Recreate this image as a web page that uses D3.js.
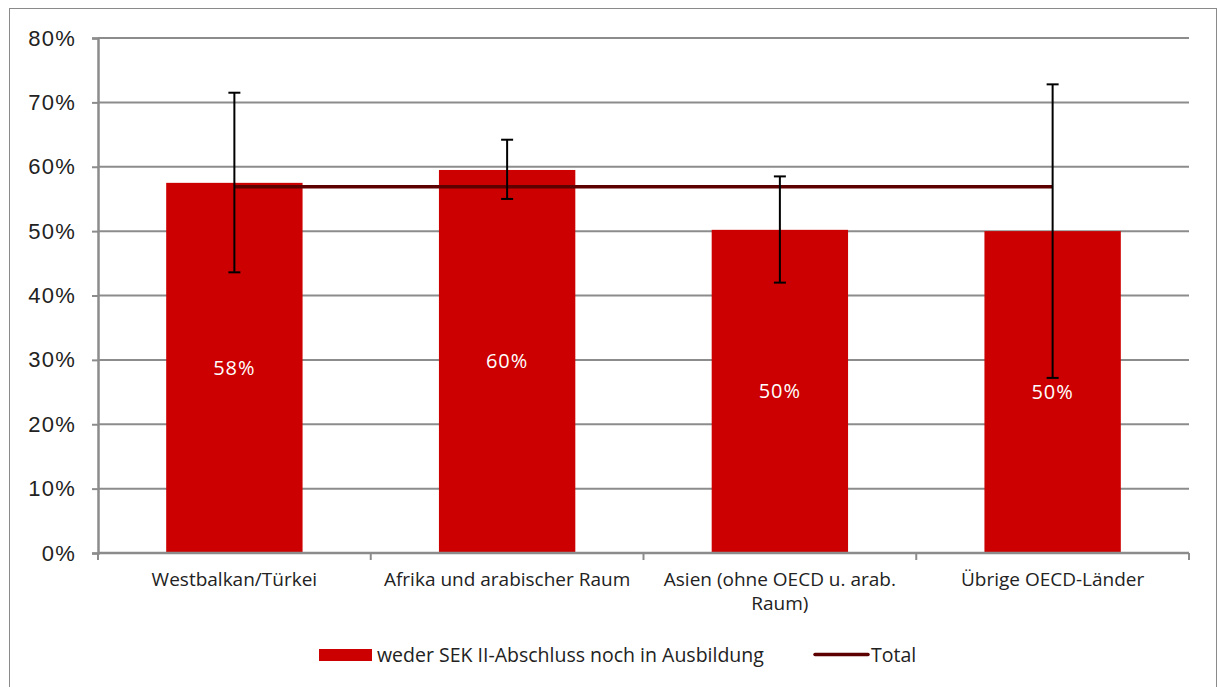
<!DOCTYPE html>
<html>
<head>
<meta charset="utf-8">
<script src="https://cdn.jsdelivr.net/npm/d3@7"></script>
<style>
  html, body { margin: 0; padding: 0; background: #fff; }
  svg { display: block; font-family: "Open Sans", "Noto Sans", sans-serif; }
</style>
</head>
<body>
<svg id="chart" width="1217" height="687"></svg>
<script>
// Regions of origin
const categories = [
  "Westbalkan/Türkei",
  "Afrika und arabischer Raum",
  "Asien (ohne OECD u. arab. Raum)",
  "Übrige OECD-Länder"
];
// Share without upper-secondary degree and not in education
const shares = [0.575, 0.595, 0.502, 0.500];
const shareLabels = ["58%", "60%", "50%", "50%"];
// Confidence interval bounds
const lowerBounds = [0.436, 0.550, 0.420, 0.272];
const upperBounds = [0.715, 0.642, 0.585, 0.728];
// Overall total
const totalShare = 0.569;
const yTicks = [0, 0.1, 0.2, 0.3, 0.4, 0.5, 0.6, 0.7, 0.8];
const legendLabels = ["weder SEK II-Abschluss noch in Ausbildung", "Total"];

const svg = d3.select("#chart");
const W = 1217, H = 687;
const plot = { left: 98, right: 1189, top: 38, bottom: 553 };

// outer frame
svg.append("rect")
  .attr("x", 9.5).attr("y", 8.5)
  .attr("width", W - 10).attr("height", H)
  .attr("fill", "none").attr("stroke", "#8a8a8a").attr("stroke-width", 1);

const x = d3.scaleBand()
  .domain(categories)
  .range([plot.left, plot.right])
  .paddingInner(0.5)
  .paddingOuter(0.25);

const y = d3.scaleLinear()
  .domain([0, 0.8])
  .range([plot.bottom, plot.top]);

// horizontal gridlines
svg.append("g")
  .selectAll("line")
  .data(yTicks.filter(d => d > 0))
  .join("line")
  .attr("x1", plot.left).attr("x2", plot.right)
  .attr("y1", d => y(d)).attr("y2", d => y(d))
  .attr("stroke", "#8c8c8c").attr("stroke-width", 2);

// y axis
const yAxis = svg.append("g")
  .attr("transform", `translate(${plot.left},0)`)
  .call(d3.axisLeft(y).tickValues(yTicks).tickFormat(d3.format(".0%")).tickSize(6).tickPadding(16));
yAxis.select(".domain").attr("stroke", "#8c8c8c").attr("stroke-width", 2.5);
yAxis.selectAll(".tick line").attr("stroke", "#8c8c8c").attr("stroke-width", 2);
yAxis.selectAll(".tick text")
  .attr("fill", "#222").attr("font-size", 22).attr("letter-spacing", 1.2);

// bars
svg.append("g")
  .selectAll("rect")
  .data(categories)
  .join("rect")
  .attr("x", d => x(d))
  .attr("width", x.bandwidth())
  .attr("y", (d, i) => y(shares[i]))
  .attr("height", (d, i) => y(0) - y(shares[i]))
  .attr("fill", "#cc0000");

// x axis
const bandEdges = categories.map(c => x(c) - x.step() * x.paddingInner() / 2).concat([plot.right]);
const xAxisG = svg.append("g");
xAxisG.append("line")
  .attr("x1", plot.left).attr("x2", plot.right)
  .attr("y1", plot.bottom).attr("y2", plot.bottom)
  .attr("stroke", "#8c8c8c").attr("stroke-width", 2.5);
xAxisG.selectAll("line.tk")
  .data([plot.left].concat(bandEdges.slice(1)))
  .join("line")
  .attr("class", "tk")
  .attr("x1", d => d).attr("x2", d => d)
  .attr("y1", plot.bottom).attr("y2", plot.bottom + 7)
  .attr("stroke", "#8c8c8c").attr("stroke-width", 2);

// category labels, wrapped to the band step
const labelSize = 19;
function wrapWords(text, width, fontSize) {
  const ctx = document.createElement("canvas").getContext("2d");
  ctx.font = `${fontSize}px "Open Sans"`;
  const words = text.split(" ");
  const lines = [];
  let cur = "";
  words.forEach(w => {
    const t = cur ? cur + " " + w : w;
    if (ctx.measureText(t).width > width && cur) { lines.push(cur); cur = w; }
    else cur = t;
  });
  lines.push(cur);
  return lines;
}
const xl = svg.append("g");
categories.forEach(c => {
  const lines = wrapWords(c, x.step() - 8, labelSize);
  const t = xl.append("text")
    .attr("x", x(c) + x.bandwidth() / 2)
    .attr("y", 586)
    .attr("text-anchor", "middle")
    .attr("font-size", labelSize)
    .attr("fill", "#222");
  lines.forEach((ln, i) => {
    t.append("tspan")
      .attr("x", x(c) + x.bandwidth() / 2)
      .attr("dy", i === 0 ? 0 : 24)
      .text(ln);
  });
});

// total line between first and last bar centres
const cx = d => x(d) + x.bandwidth() / 2;
svg.append("line")
  .attr("x1", cx(categories[0]))
  .attr("x2", cx(categories[categories.length - 1]))
  .attr("y1", y(totalShare)).attr("y2", y(totalShare))
  .attr("stroke", "#5c0000").attr("stroke-width", 3.5);

// error bars
const eb = svg.append("g").attr("stroke", "#000").attr("stroke-width", 2);
categories.forEach((c, i) => {
  const xc = cx(c);
  eb.append("line").attr("x1", xc).attr("x2", xc)
    .attr("y1", y(upperBounds[i])).attr("y2", y(lowerBounds[i]));
  [upperBounds[i], lowerBounds[i]].forEach(v => {
    eb.append("line").attr("x1", xc - 6).attr("x2", xc + 6)
      .attr("y1", y(v)).attr("y2", y(v));
  });
});

// value labels centred in the bars
svg.append("g")
  .selectAll("text")
  .data(categories)
  .join("text")
  .attr("x", d => cx(d))
  .attr("y", (d, i) => (y(shares[i]) + y(0)) / 2)
  .attr("dy", "0.35em")
  .attr("text-anchor", "middle")
  .attr("font-size", 20)
  .attr("letter-spacing", 1)
  .attr("fill", "#fff")
  .text((d, i) => shareLabels[i]);

// legend
const lg = svg.append("g");
lg.append("rect")
  .attr("x", 319).attr("y", 649).attr("width", 53).attr("height", 12)
  .attr("fill", "#cc0000");
lg.append("text")
  .attr("x", 377).attr("y", 662)
  .attr("font-size", 19.5).attr("fill", "#222")
  .text(legendLabels[0]);
lg.append("line")
  .attr("x1", 815).attr("x2", 868).attr("y1", 654.5).attr("y2", 654.5)
  .attr("stroke", "#5c0000").attr("stroke-width", 3.5).attr("stroke-linecap", "round");
lg.append("text")
  .attr("x", 871).attr("y", 662)
  .attr("font-size", 19.5).attr("fill", "#222")
  .text(legendLabels[1]);
</script>
</body>
</html>
